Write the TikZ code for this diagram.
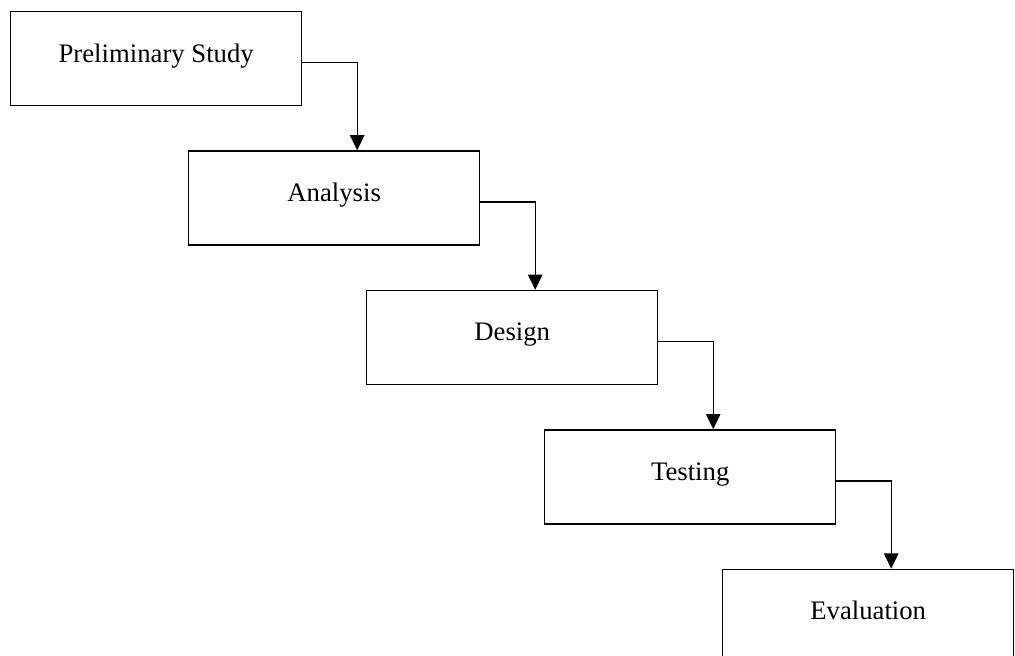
\documentclass[tikz,border=0pt]{standalone}
\usepackage{fontspec}
\setmainfont{Liberation Serif}
\usetikzlibrary{positioning,arrows.meta}

\begin{document}
\begin{tikzpicture}[stagenode/.style={rectangle, draw=black, line width=1pt, minimum width=7.275cm, minimum height=2.35cm,
                                      text height=0.7em, text depth=0.22em, font=\fontsize{19}{22}\selectfont},
                    >={Triangle[width=0.36cm,length=0.38cm]}, line width=1pt]
    \useasboundingbox (0,0) rectangle (25.375,-16.4);
    % nodes
    \node[stagenode, anchor=north west] (PS)  at (0.25,-0.275)                   {Preliminary Study};
    \node[stagenode]      (An)      [below right=1.1cm and 4.45cm of PS.south west] {Analysis};
    \node[stagenode]      (De)      [below right=1.1cm and 4.45cm of An.south west] {Design};
    \node[stagenode]      (Te)      [below right=1.1cm and 4.45cm of De.south west] {Testing};
    \node[stagenode]      (Ev)      [below right=1.1cm and 4.45cm of Te.south west] {Evaluation};
    % lines
    \draw[->] ([yshift=-0.1cm]PS.east) -| ([xshift=0.575cm]An.north);
    \draw[->] ([yshift=-0.1cm]An.east) -| ([xshift=0.575cm]De.north);
    \draw[->] ([yshift=-0.1cm]De.east) -| ([xshift=0.575cm]Te.north);
    \draw[->] ([yshift=-0.1cm]Te.east) -| ([xshift=0.575cm]Ev.north);
\end{tikzpicture}
\end{document}
